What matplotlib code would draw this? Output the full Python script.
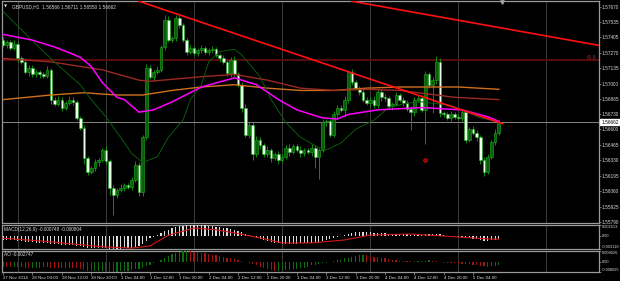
import matplotlib
matplotlib.use("Agg")
import matplotlib.pyplot as plt
import matplotlib.transforms as mtransforms
import numpy as np

plt.rcParams['font.family'] = ['Liberation Sans', 'DejaVu Sans']

# ---------------- data ----------------
symbol_title = "GBPUSD,H1  1.56566 1.56711 1.56550 1.56662"
first_open = 1.5738
closes = [
    1.5734, 1.5736, 1.5731, 1.5735, 1.5722, 1.5719, 1.5710, 1.5714, 1.5708, 1.5710, 1.5708, 1.5707, 1.5712, 1.5686, 1.5682, 1.5686, 1.5679,
    1.5683, 1.5686, 1.5684, 1.5670, 1.5661, 1.5635, 1.5623, 1.5626, 1.5631, 1.5633, 1.5642, 1.5632, 1.5609, 1.5603, 1.5607, 1.5609, 1.5611,
    1.5610, 1.5616, 1.5629, 1.5605, 1.5653, 1.5714, 1.5706, 1.5710, 1.5712, 1.5732, 1.5756, 1.5738, 1.5740, 1.5757, 1.5751, 1.5738, 1.5728,
    1.5731, 1.5727, 1.5729, 1.5731, 1.5728, 1.5729, 1.5730, 1.5725, 1.5722, 1.5719, 1.5709, 1.5721, 1.5708, 1.5699, 1.5679, 1.5655, 1.5664,
    1.5638, 1.5651, 1.5646, 1.5638, 1.5642, 1.5635, 1.5638, 1.5633, 1.5636, 1.5644, 1.5640, 1.5645, 1.5642, 1.5639, 1.5642, 1.5640, 1.5644,
    1.5636, 1.5642, 1.5666, 1.5667, 1.5655, 1.5673, 1.5679, 1.5677, 1.5686, 1.5710, 1.5701, 1.5696, 1.5693, 1.5686, 1.5683, 1.5686, 1.5681,
    1.5693, 1.5688, 1.5687, 1.5680, 1.5682, 1.5690, 1.5686, 1.5683, 1.5678, 1.5675, 1.5686, 1.5687, 1.5677, 1.5708, 1.5699, 1.5703, 1.5719,
    1.5674, 1.5673, 1.5670, 1.5673, 1.5671, 1.5670, 1.5675, 1.5651, 1.5660, 1.5657, 1.5653, 1.5633, 1.5623, 1.5636, 1.5649, 1.5657, 1.56662,
]
upper_wick_pips = [
    3, 2, 2, 3, 2, 2, 3, 2, 2, 3, 2, 2, 3, 2, 2, 3, 2,
    2, 3, 2, 2, 2, 3, 2, 2, 3, 2, 2, 3, 2, 2, 2, 3, 2,
    2, 2, 3, 2, 2, 3, 2, 2, 3, 2, 4, 3, 2, 3, 3, 2, 2,
    3, 2, 2, 3, 2, 2, 3, 2, 2, 3, 2, 2, 3, 2, 2, 3, 2,
    2, 3, 2, 2, 3, 2, 2, 3, 2, 2, 3, 2, 2, 3, 2, 2, 3,
    2, 2, 3, 2, 2, 3, 2, 2, 3, 2, 3, 2, 2, 3, 2, 2, 3,
    2, 2, 3, 2, 2, 3, 2, 2, 3, 2, 2, 3, 2, 3, 2, 3, 5,
    3, 2, 2, 3, 2, 2, 3, 2, 2, 3, 2, 2, 3, 2, 2, 3, 2,
]
lower_wick_pips = [
    2, 3, 2, 2, 3, 2, 2, 3, 2, 2, 3, 2, 2, 4, 2, 2, 3,
    2, 2, 3, 2, 2, 5, 3, 2, 2, 3, 2, 2, 6, 18, 3, 2, 3,
    2, 3, 2, 3, 3, 2, 2, 3, 2, 2, 3, 2, 2, 3, 2, 2, 3,
    2, 2, 3, 2, 2, 3, 2, 2, 3, 2, 2, 3, 2, 2, 4, 2, 3,
    5, 2, 3, 2, 2, 4, 2, 3, 2, 2, 3, 2, 2, 3, 2, 2, 3,
    10, 19, 2, 3, 2, 2, 3, 2, 6, 3, 2, 2, 3, 2, 2, 3, 2,
    2, 3, 2, 2, 3, 2, 2, 3, 2, 16, 3, 2, 2, 30, 3, 25, 3,
    3, 2, 2, 3, 2, 2, 3, 3, 2, 2, 3, 3, 4, 2, 2, 3, 2,
]

# moving averages (bar index, price)
ma_magenta_bars = [0, 8, 14, 18, 21, 24, 27, 31, 33, 37, 41, 46, 54, 63, 69, 75, 80, 87, 91, 94, 102, 114, 125, 132, 135]
ma_magenta_vals = [1.5743, 1.5738, 1.5732, 1.5727, 1.5723, 1.5715, 1.5701, 1.5688, 1.5686, 1.5675, 1.5677, 1.5684, 1.5697,
                   1.5705, 1.5699, 1.5686, 1.5677, 1.5670, 1.5669, 1.5673, 1.5677, 1.5679, 1.5677, 1.5671, 1.5667]
ma_green_bars = [0, 5, 10, 15, 21, 24, 28, 32, 35, 38, 42, 45, 49, 51, 54, 56, 59, 63, 65, 70, 73, 77, 81, 86, 88, 92, 96,
                 101, 105, 110, 114, 122, 130, 135]
ma_green_vals = [1.5763, 1.5747, 1.5731, 1.5716, 1.5699, 1.5686, 1.5671, 1.5653, 1.5639, 1.5631, 1.5636, 1.5653, 1.5668,
                 1.5686, 1.5699, 1.5719, 1.5728, 1.5730, 1.5725, 1.5706, 1.5686, 1.5666, 1.5653, 1.5644, 1.5642, 1.5648,
                 1.5660, 1.5668, 1.5679, 1.5683, 1.5684, 1.5681, 1.5670, 1.5667]
ma_brown_bars = [0, 13, 21, 27, 37, 40, 54, 63, 72, 81, 90, 99, 108, 123, 135]
ma_brown_vals = [1.5722, 1.5719, 1.5715, 1.5712, 1.5703, 1.5702, 1.5706, 1.5708, 1.5703, 1.5696, 1.5694, 1.5695, 1.5694,
                 1.5688, 1.5686]
ma_orange_bars = [0, 13, 22, 31, 38, 46, 54, 63, 72, 81, 90, 99, 108, 124, 135]
ma_orange_vals = [1.5686, 1.5690, 1.5692, 1.5690, 1.5690, 1.5694, 1.5697, 1.5699, 1.5696, 1.5694, 1.5694, 1.5696, 1.5697,
                  1.5697, 1.5695]

# drawn objects
trend1_bars = [37, 136]
trend1_vals = [1.5772, 1.5665]
trend2_bars = [95, 163]
trend2_vals = [1.5772, 1.5733]
fib_level = 1.57207
fib_label = "61.8"
bid_price = 1.56662
fractal_bar, fractal_val = 115, 1.5633

# MACD (12,26,9), values x 1000
macd_hist_x1000 = [
    -1.0, -1.1, -1.0, -1.1, -1.2, -1.3, -1.4, -1.5, -1.5, -1.6, -1.6, -1.7, -1.7, -1.9, -2.0, -2.0, -2.1,
    -2.1, -2.1, -2.2, -2.3, -2.5, -2.7, -2.9, -3.0, -3.0, -3.0, -3.0, -3.0, -3.1, -3.1, -3.118, -3.1, -3.0,
    -2.9, -2.8, -2.6, -2.5, -2.0, -1.2, -0.6, -0.2, 0.2, 0.7, 1.2, 1.4, 1.7, 2.0, 2.2, 2.3, 2.4,
    2.5, 2.513, 2.5, 2.4, 2.4, 2.3, 2.2, 2.1, 2.0, 1.9, 1.7, 1.6, 1.4, 1.2, 0.9, 0.5, 0.2,
    -0.2, -0.5, -0.8, -1.0, -1.3, -1.5, -1.7, -1.8, -1.9, -1.9, -1.9, -1.9, -1.9, -1.8, -1.8, -1.7, -1.7,
    -1.6, -1.6, -1.3, -1.0, -0.8, -0.5, -0.3, -0.1, 0.1, 0.5, 0.7, 0.8, 0.9, 0.9, 0.8, 0.8, 0.7,
    0.7, 0.6, 0.6, 0.5, 0.5, 0.5, 0.4, 0.4, 0.3, 0.2, 0.3, 0.3, 0.2, 0.4, 0.4, 0.4, 0.5,
    0.3, 0.1, -0.1, -0.2, -0.2, -0.3, -0.3, -0.5, -0.6, -0.7, -0.8, -1.0, -1.2, -1.2, -1.1, -1.0, -0.748,
]
macd_signal_bars = [0, 10, 20, 27, 35, 40, 45, 52, 58, 64, 70, 76, 84, 93, 100, 111, 124, 133, 135]
macd_signal_x1000 = [-0.6, -1.2, -2.0, -2.6, -2.9, -2.4, 0.1, 1.8, 1.4, 0.5, -0.5, -1.7, -1.7, -1.0, 0.15, 0.4, -0.3, -0.8,
                     -0.804]
macd_title = "MACD(12,26,9) -0.000748 -0.000804"
macd_ticks = [0.002513, 0.0, -0.003118]
macd_ticklabels = ["0.002513", "0.00", "-0.003118"]

# Awesome oscillator, values x 1000
ao_x1000 = [
    -4.0, -4.2, -4.3, -4.0, -4.2, -4.5, -4.8, -5.0, -5.0, -4.8, -4.6, -4.5, -4.5, -4.8, -5.0, -5.2, -5.0,
    -4.8, -4.6, -4.8, -5.2, -5.6, -6.6, -7.2, -7.6, -7.6, -7.4, -7.2, -7.4, -7.8, -8.0, -7.8, -7.5, -7.2,
    -6.9, -6.5, -6.0, -5.5, -4.8, -3.6, -2.4, -1.2, 0.0, 1.4, 2.8, 4.2, 5.4, 6.4, 7.2, 7.8, 8.0,
    7.8, 7.5, 7.1, 6.7, 6.2, 5.7, 5.2, 4.7, 4.2, 3.6, 3.0, 2.4, 1.8, 1.2, 0.5, -0.2, -1.0,
    -2.0, -3.0, -4.0, -5.0, -5.8, -6.6, -7.2, -7.0, -6.8, -6.6, -6.3, -6.0, -5.6, -5.2, -4.8, -4.3, -3.0,
    -2.4, -1.8, -1.3, -0.8, -0.4, 0.2, 0.8, 1.5, 2.3, 3.0, 3.7, 4.3, 4.8, 5.0, 4.6, 4.2, 3.8,
    3.4, 2.9, 2.4, 1.9, 1.4, 1.0, 0.6, 0.3, 0.2, 0.1, 0.3, 0.5, 0.4, 0.6, 0.8, 0.6, 0.2,
    -0.4, -0.8, -1.0, -1.2, -1.4, -1.6, -1.8, -2.0, -2.2, -2.6, -3.0, -3.4, -3.8, -4.0, -3.8, -3.2, -2.747,
]
ao_title = "AO -0.002747"
ao_ticks = [0.008026, 0.0, -0.008025]
ao_ticklabels = ["0.008026", "0.00", "-0.008025"]

price_ticks = [1.57670, 1.57535, 1.57405, 1.57270, 1.57135, 1.57000, 1.56865, 1.56730,
               1.56600, 1.56465, 1.56330, 1.56195, 1.56060, 1.55925, 1.55790]
time_tick_bars = [0, 8, 16, 24, 32, 40, 48, 56, 64, 72, 80, 88, 96, 104, 112, 120, 128]
time_tick_labels = ["27 Nov 2014", "28 Nov 04:00", "28 Nov 12:00", "28 Nov 20:00", "1 Dec 04:00", "1 Dec 12:00",
                    "1 Dec 20:00", "2 Dec 04:00", "2 Dec 12:00", "2 Dec 20:00", "3 Dec 04:00", "3 Dec 12:00",
                    "3 Dec 20:00", "4 Dec 04:00", "4 Dec 12:00", "4 Dec 20:00", "5 Dec 04:00"]
day_separator_bars = [4, 28, 52, 76, 100, 124, 148]

# ---------------- figure ----------------
W, H = 620, 281
fig = plt.figure(figsize=(W / 100, H / 100), dpi=100, facecolor='black')


def rect(x0, y0, x1, y1):
    return [x0 / W, 1 - y1 / H, (x1 - x0) / W, (y1 - y0) / H]


ax = fig.add_axes(rect(2, 1, 599, 223))
axm = fig.add_axes(rect(2, 225, 599, 249), sharex=ax)
axa = fig.add_axes(rect(2, 251, 599, 272), sharex=ax)

TXT = '#d8d8d8'
GRID = '#8a8a8a'
FS = 3.4      # price scale / titles
FSX = 3.2     # time scale
FSS = 2.9     # sub-window scale

for a in (ax, axm, axa):
    a.set_facecolor('black')
    for s in a.spines.values():
        s.set_color('#9a9a9a')
        s.set_linewidth(0.9)
    a.yaxis.tick_right()
    a.tick_params(axis='y', colors='#9a9a9a', labelcolor=TXT, labelsize=FS, length=1.5, width=0.5, pad=0.6)
    for b in day_separator_bars:
        a.axvline(b, color=GRID, lw=0.6, ls=(0, (1.2, 1.2)), zorder=1)

ax.set_xlim(-0.3, 162.3)

# candles
n = len(closes)
idx = np.arange(n)
c = np.array(closes)
o = np.array([first_open] + closes[:-1])
hi = np.maximum(o, c) + np.array(upper_wick_pips) * 1e-4
lo = np.minimum(o, c) - np.array(lower_wick_pips) * 1e-4
bull = c >= o
ax.vlines(idx, lo, hi, color='#12a012', lw=0.6, zorder=3)
bot = np.minimum(o, c)
hgt = np.maximum(np.abs(c - o), 0.00003)
ax.bar(idx[bull], hgt[bull], bottom=bot[bull], width=0.72, color='#0b5e0b', edgecolor='#1bb31b', lw=0.4, zorder=3)
ax.bar(idx[~bull], hgt[~bull], bottom=bot[~bull], width=0.72, color='#eaffea', edgecolor='#1bb31b', lw=0.4, zorder=3)

# indicators
ax.plot(ma_orange_bars, ma_orange_vals, color='#d0701e', lw=1.0, zorder=4)
ax.plot(ma_brown_bars, ma_brown_vals, color='#9a2a22', lw=1.0, zorder=4)
ax.plot(ma_green_bars, ma_green_vals, color='#0c5a0c', lw=0.7, zorder=4)
ax.plot(ma_magenta_bars, ma_magenta_vals, color='#ff00ff', lw=1.1, zorder=4)

# objects
ax.axhline(fib_level, color='#5a0c0c', lw=1.4, zorder=2)
ax.text(161.5, fib_level + 0.00003, fib_label, color='#a33030', fontsize=FS, ha='right', va='bottom', zorder=6)
ax.axhline(bid_price, color='#9a9a9a', lw=0.6, zorder=2)
ax.plot(trend1_bars, trend1_vals, color='#ff1010', lw=1.2, zorder=5)
ax.plot(trend2_bars, trend2_vals, color='#ff1010', lw=1.2, zorder=5)
ax.plot([fractal_bar], [fractal_val], marker='o', ms=2.6, mfc='#7a0000', mec='#e01010', mew=0.6, zorder=6)

ax.set_ylim(1.55781, 1.57722)
ax.set_yticks(price_ticks)
ax.set_yticklabels([f"{v:.5f}" for v in price_ticks])
blend = mtransforms.blended_transform_factory(ax.transAxes, ax.transData)
ax.text(1.0035, bid_price, f"{bid_price:.5f}", transform=blend, color='black', fontsize=FS, va='center', ha='left',
        bbox=dict(facecolor='white', edgecolor='white', pad=0.5), zorder=7, clip_on=False)
ax.text(0.004, 0.985, "\u25BC", transform=ax.transAxes, color='#d0d0d0', fontsize=3.0, va='top', ha='left',
        family='DejaVu Sans')
ax.text(0.016, 0.985, symbol_title, transform=ax.transAxes, color=TXT, fontsize=FS, va='top', ha='left')
ax.plot([135.9], [1.57712], marker='v', ms=2.5, color='#a0a0a0', clip_on=False, zorder=7)
ax.tick_params(axis='x', bottom=False, labelbottom=False)

# MACD
axm.bar(idx, np.array(macd_hist_x1000) / 1000, width=0.32, color='#dcdcdc', zorder=3)
axm.plot(macd_signal_bars, np.array(macd_signal_x1000) / 1000, color='#d01818', lw=0.8, zorder=4)
axm.set_ylim(macd_ticks[2], macd_ticks[0])
axm.set_yticks(macd_ticks)
axm.set_yticklabels(macd_ticklabels)
axm.tick_params(axis='y', labelsize=FSS)
tl = axm.get_yticklabels()
tl[0].set_va('top'); tl[2].set_va('bottom')
axm.text(0.004, 0.93, macd_title, transform=axm.transAxes, color=TXT, fontsize=FS, va='top', ha='left')
axm.tick_params(axis='x', bottom=False, labelbottom=False)

# AO
ao = np.array(ao_x1000) / 1000
ao_col = ['#0e6e0e'] + ['#0e6e0e' if ao[i] >= ao[i - 1] else '#a01414' for i in range(1, n)]
axa.bar(idx, ao, width=0.32, color=ao_col, zorder=3)
axa.set_ylim(ao_ticks[2], ao_ticks[0])
axa.set_yticks(ao_ticks)
axa.set_yticklabels(ao_ticklabels)
axa.tick_params(axis='y', labelsize=FSS)
tl = axa.get_yticklabels()
tl[0].set_va('top'); tl[2].set_va('bottom')
axa.text(0.004, 0.93, ao_title, transform=axa.transAxes, color=TXT, fontsize=FS, va='top', ha='left')

axa.set_xticks(time_tick_bars)
axa.set_xticklabels(time_tick_labels)
axa.tick_params(axis='x', colors='#9a9a9a', labelcolor=TXT, labelsize=FSX, length=2, width=0.5, pad=0.8)
for t in axa.get_xticklabels():
    t.set_ha('left')

fig.savefig('out.png', dpi=100, facecolor='black')
